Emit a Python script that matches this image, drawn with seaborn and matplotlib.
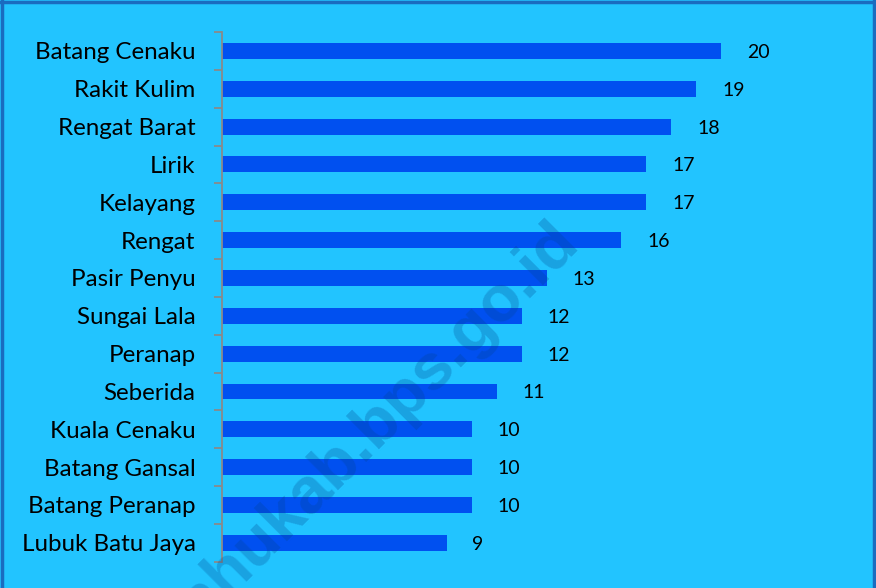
import matplotlib
matplotlib.use("Agg")
import matplotlib.pyplot as plt
import seaborn as sns
import pandas as pd
from matplotlib.lines import Line2D

districts = ["Batang Cenaku", "Rakit Kulim", "Rengat Barat", "Lirik", "Kelayang",
             "Rengat", "Pasir Penyu", "Sungai Lala", "Peranap", "Seberida",
             "Kuala Cenaku", "Batang Gansal", "Batang Peranap", "Lubuk Batu Jaya"]
counts = [20, 19, 18, 17, 17, 16, 13, 12, 12, 11, 10, 10, 10, 9]

df = pd.DataFrame({"district": districts, "count": counts})

bg = "#22c4ff"
bar_color = "#0050f0"

sns.set_style("white")
plt.rcParams["font.family"] = ["Lato", "DejaVu Sans"]

fig = plt.figure(figsize=(8.76, 5.88), dpi=100, facecolor=bg)
ax = fig.add_axes([0.2534, 0.0447, 0.684, 0.9009])
ax.set_facecolor(bg)

sns.barplot(data=df, y="district", x="count", orient="h", color=bar_color,
            saturation=1, width=0.42, linewidth=0, edgecolor="none", ax=ax)

ax.set_xlim(0, 24)
ax.set_ylim(len(districts) - 0.5, -0.5)

# value labels
for i, v in enumerate(counts):
    ax.annotate(str(v), xy=(v, i), xytext=(18.5, 0), textcoords="offset points",
                ha="left", va="center_baseline", fontsize=14, color="black")

# category boundary ticks on the left spine, labels at centres
n = len(districts)
ax.set_yticks([k - 0.5 for k in range(n + 1)])
ax.set_yticklabels([])
ax.set_yticks(list(range(n)), minor=True)
ax.set_yticklabels(districts, minor=True, fontsize=17.4, color="black")
ax.tick_params(axis="y", which="major", left=True, length=6, width=1.3,
               color="#8a8a8a", direction="out")
ax.tick_params(axis="y", which="minor", left=True, length=0, pad=19)
ax.set_xticks([])
ax.set_xlabel("")
ax.set_ylabel("")

for s in ["top", "right", "bottom"]:
    ax.spines[s].set_visible(False)
ax.spines["left"].set_color("#8a8a8a")
ax.spines["left"].set_linewidth(1.3)

# watermark
fig.text(0.424, 0.27, "inhukab.bps.go.id", rotation=45, ha="center", va="center",
         fontsize=47, fontweight="bold", color="#00428c", alpha=0.26,
         family=["Liberation Sans", "DejaVu Sans"])

# outer frame
frame_color = "#1a6cc0"
fig.add_artist(Line2D([0.002, 0.002], [0, 1], transform=fig.transFigure, color=frame_color, lw=2.5))
fig.add_artist(Line2D([0, 1], [0.997, 0.997], transform=fig.transFigure, color=frame_color, lw=2.5))
fig.add_artist(Line2D([0.998, 0.998], [0, 1], transform=fig.transFigure, color=frame_color, lw=2.5))

fig.savefig("out.png", dpi=100, facecolor=bg)
